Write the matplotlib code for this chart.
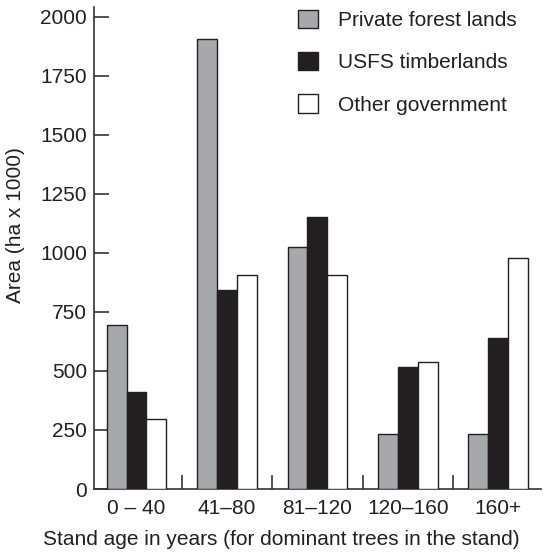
import matplotlib
matplotlib.use("Agg")
import matplotlib.pyplot as plt
import numpy as np
from matplotlib.patches import Patch

plt.rcParams['font.family'] = ['Liberation Sans', 'DejaVu Sans']

categories = ["0 \u2013 40", "41\u201380", "81\u2013120", "120\u2013160", "160+"]
private = [695, 1905, 1025, 232, 232]
usfs = [410, 842, 1152, 517, 638]
other = [298, 907, 907, 540, 979]
series_names = ["Private forest lands", "USFS timberlands", "Other government"]
colors = ["#a7a8ab", "#231f20", "#ffffff"]

FS = 15
fig = plt.figure(figsize=(5.43, 5.56), dpi=100)
ax = fig.add_axes([0.173, 0.1205, 0.823, 0.867])

x = np.arange(len(categories))
w = 0.22
for i, (vals, c) in enumerate(zip([private, usfs, other], colors)):
    ax.bar(x + (i - 1) * w, vals, width=w, color=c, edgecolor="#231f20", linewidth=1.0, zorder=3)

ax.set_xlim(-0.47, 4.47)
ax.set_ylim(0, 2042)
ax.set_yticks([0, 250, 500, 750, 1000, 1250, 1500, 1750, 2000])
ax.tick_params(axis='y', direction='in', length=11, width=1.2, color="#333333",
               labelsize=FS, pad=5, labelcolor="#231f20")
ax.set_xticks(x)
ax.set_xticklabels(categories)
ax.tick_params(axis='x', length=0, labelsize=FS, pad=7, labelcolor="#231f20")
ax.set_xticks(x[:-1] + 0.5, minor=True)
ax.tick_params(axis='x', which='minor', direction='in', length=10, width=1.2, color="#333333")

for s in ['top', 'right']:
    ax.spines[s].set_visible(False)
for s in ['left', 'bottom']:
    ax.spines[s].set_color("#333333")
    ax.spines[s].set_linewidth(1.2)

ax.set_ylabel("Area (ha x 1000)", fontsize=FS, color="#231f20")
ax.yaxis.set_label_coords(-0.155, 0.548)
ax.set_xlabel("Stand age in years (for dominant trees in the stand)", fontsize=FS, color="#231f20")
ax.xaxis.set_label_coords(0.42, -0.085)

handles = [Patch(facecolor=c, edgecolor="#231f20", linewidth=1.0) for c in colors]
leg = ax.legend(handles, series_names, loc='upper left', bbox_to_anchor=(0.456, 0.994),
                frameon=False, fontsize=FS, handlelength=0.96, handleheight=0.96,
                labelspacing=1.06, handletextpad=0.96, borderpad=0, borderaxespad=0)
for t in leg.get_texts():
    t.set_color("#231f20")

fig.savefig("out.png", dpi=100)
